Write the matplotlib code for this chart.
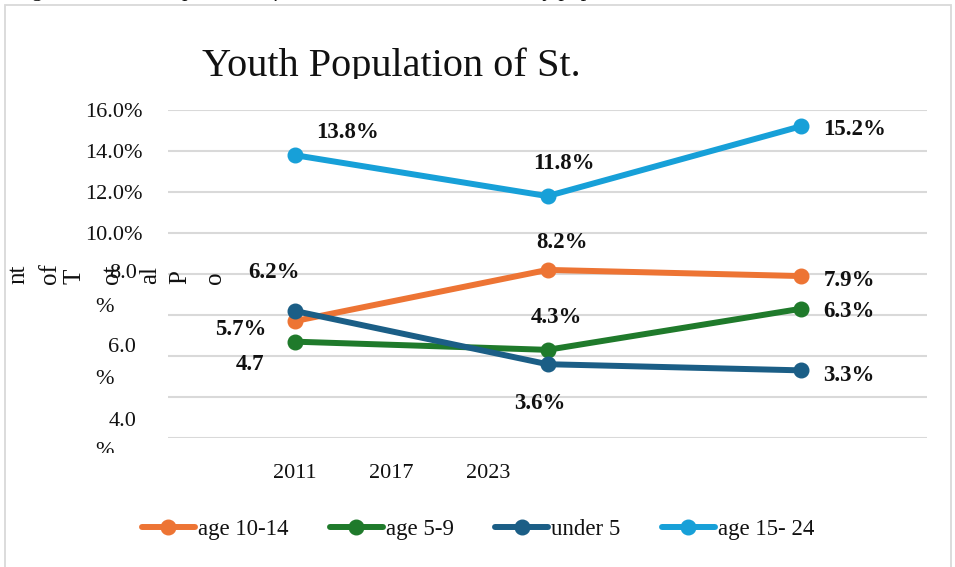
import matplotlib
matplotlib.use("Agg")
import matplotlib.pyplot as plt
from matplotlib.patches import Rectangle
from matplotlib.transforms import Bbox

# ---------------- data ----------------
categories = ["2011", "2017", "2023"]
series_names = ["age 10-14", "age 5-9", "under 5", "age 15- 24"]
age_10_14 = [5.7, 8.2, 7.9]
age_5_9 = [4.7, 4.3, 6.3]
under_5 = [6.2, 3.6, 3.3]
age_15_24 = [13.8, 11.8, 15.2]
series_values = [age_10_14, age_5_9, under_5, age_15_24]
x_tick_labels = ["2011", "2017", "2023"]
y_ticks = [0, 2, 4, 6, 8, 10, 12, 14, 16]
y_tick_labels = ["", "", "", "", "", "10.0%", "12.0%", "14.0%", "16.0%"]
title_text = "Youth Population of St."
y_title_fragments = ["nt", "of", "T", "ot", "al", "P", "o"]
caption_text = "Figure 5: Youth Population of St. Kitts, 2011, 2017, 2023, by population"

# ---------------- style / layout ----------------
W, H = 955, 567
colors = ["#ED7434", "#1F7A2B", "#1B5E86", "#17A0D8"]
FONT = "Liberation Serif"
plt.rcParams["font.family"] = [FONT, "DejaVu Serif"]

def fx(px):
    return px / W

def fy(py):
    return 1 - py / H

# label offsets (pixels) for each series / point
label_offsets = [
    [(-54, -8), (14, 27), (49, -4)],
    [(-45, -23), (9, 32), (48, -3)],
    [(-21, 38), (-8, -39), (48, -5)],
    [(53, 23), (16, 33), (54, -3)],
]
truncated_labels = {(1, 0)}  # "4.7" shown without % in the original

fig = plt.figure(figsize=(W / 100, H / 100), dpi=100)
ax = fig.add_axes([fx(168), fy(438), (927 - 168) / W, (438 - 110) / H])

xs = list(range(len(categories)))
for si, (name, vals, col) in enumerate(zip(series_names, series_values, colors)):
    ax.plot(xs, vals, color=col, lw=4.3, marker="o", markersize=10.5,
            solid_capstyle="round", label=name, zorder=3 + (si == 2))
    for pi, v in enumerate(vals):
        txt = f"{v:.1f}" if (si, pi) in truncated_labels else f"{v:.1f}%"
        dx, dy = label_offsets[si][pi]
        ax.annotate(txt, (xs[pi], v), xytext=(dx, dy), textcoords="offset pixels",
                    ha="center", va="center", fontsize=16.5, fontweight="bold",
                    color="#111111", zorder=6)

ax.set_xlim(-0.5, 2.5)
ax.set_ylim(0, 16)
ax.set_yticks(y_ticks)
ax.set_yticklabels(y_tick_labels)
ax.grid(axis="y", color="#D9D9D9", lw=1.5)
ax.set_axisbelow(True)
for s in ax.spines.values():
    s.set_visible(False)
ax.tick_params(axis="y", length=0, pad=18, labelsize=16, labelcolor="#111111")

# x tick labels (placed as in the original, compressed to the left)
x_label_step = 0.383
ax.set_xticks([i * x_label_step for i in range(len(x_tick_labels))])
ax.set_xticklabels(x_tick_labels)
ax.tick_params(axis="x", length=0, pad=19, labelsize=16, labelcolor="#111111")

# displaced / wrapped y tick labels
wrapped_pieces = [("8.0", 137, 274, "right"), ("%", 104, 307, "center"),
                  ("6.0", 136, 347, "right"), ("%", 104, 380, "center"),
                  ("4.0", 136, 421, "right"), ("%", 104, 451, "center")]
for t, px, py, ha in wrapped_pieces:
    tt = fig.text(fx(px), fy(py), t, ha=ha, va="center", fontsize=16, color="#111111")
    if py > 440:
        tt.set_clip_box(Bbox.from_extents(0, H - 453, W, H))
        tt.set_clip_on(True)

# broken y-axis title fragments
frag_x = [18, 50, 74, 112, 150, 180, 215]
for t, px in zip(y_title_fragments, frag_x):
    fig.text(fx(px), fy(284), t, rotation=90, ha="center", va="bottom",
             fontsize=18, color="#111111")

# title, clipped at the bottom
tt = fig.text(fx(391), fy(76), title_text, ha="center", va="baseline",
              fontsize=29, color="#111111")
tt.set_clip_box(Bbox.from_extents(0, H - 79, W, H))
tt.set_clip_on(True)

# caption cut off at the top of the image (only descenders visible)
fig.text(fx(14), fy(-4), caption_text, ha="left", va="baseline", fontsize=16,
         style="italic", color="#111111")

# legend
leg = fig.legend(loc="center left", bbox_to_anchor=(fx(142), fy(529)),
                 bbox_transform=fig.transFigure, ncol=4, frameon=False,
                 fontsize=16.5, handlelength=2.3, handletextpad=0.15,
                 columnspacing=1.8, borderpad=0, borderaxespad=0)
for t in leg.get_texts():
    t.set_color("#111111")

# outer frame
fig.patches.append(Rectangle((fx(4.5), -0.05), (950.5 - 4.5) / W, fy(5) + 0.05,
                             transform=fig.transFigure, fill=False,
                             edgecolor="#D9D9D9", lw=1.3))

fig.savefig("out.png", dpi=100)
